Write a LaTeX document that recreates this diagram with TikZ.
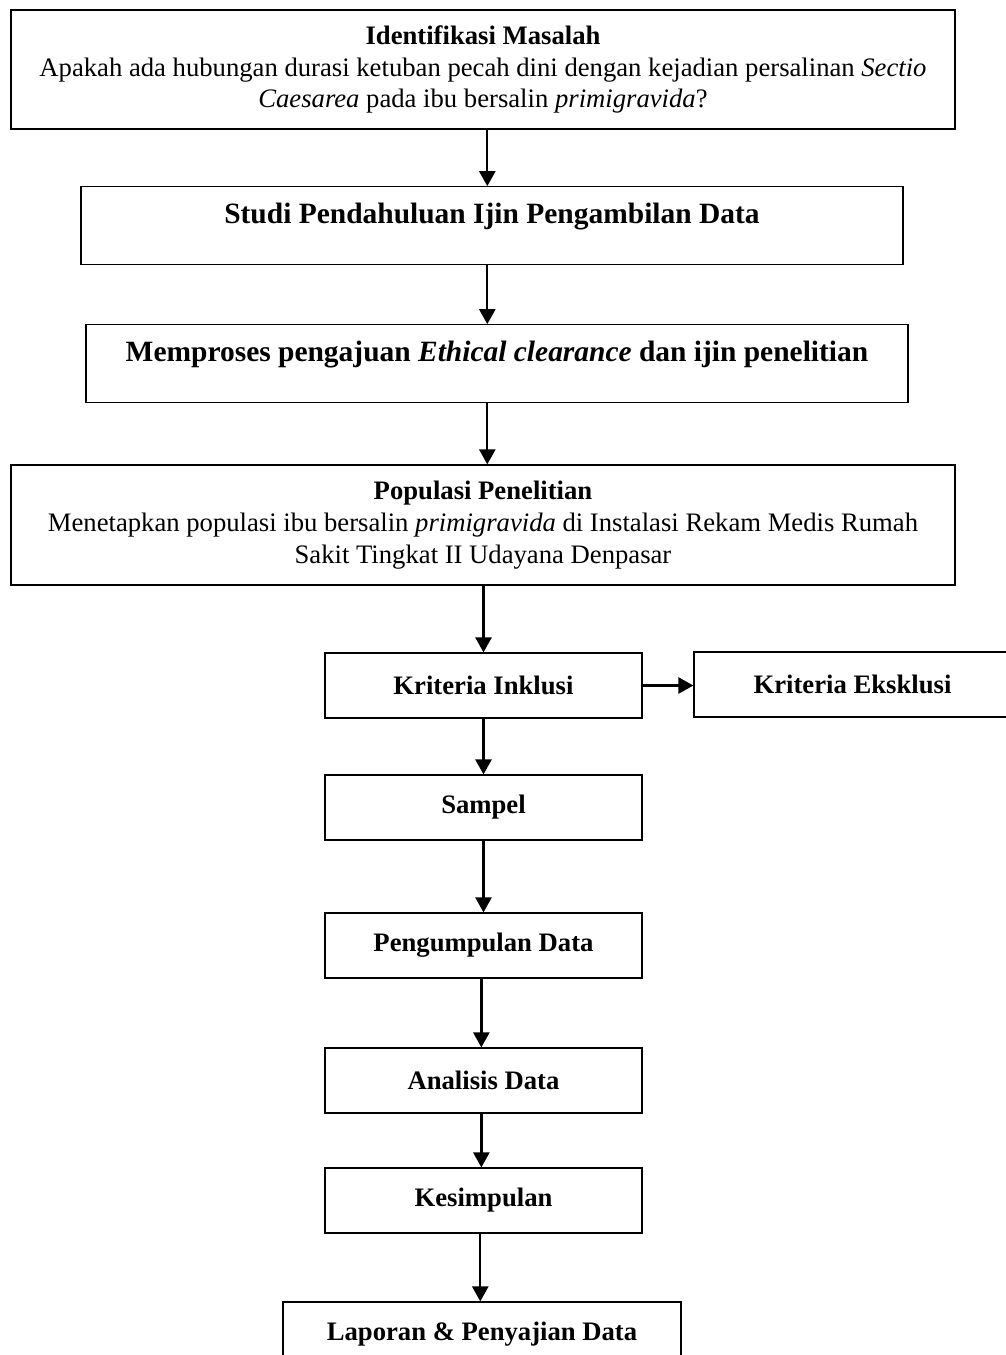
\documentclass[tikz,border=0pt]{standalone}
\usepackage{fontspec}
\setmainfont{Liberation Serif}
\usetikzlibrary{arrows.meta,positioning}

\tikzset{
  box/.style={draw, line width=0.6pt, inner sep=2pt, align=center,
    font=\fontsize{12.4}{14.8}\selectfont},
  small/.style={box, minimum width=147.4pt, minimum height=30.2pt, font=\fontsize{12.4}{14.8}\selectfont\bfseries},
  big/.style={box, minimum width=382.2pt, minimum height=36pt, text depth=11pt,
    font=\fontsize{13.7}{17}\selectfont\bfseries},
  arr/.style={-{Triangle[length=7pt,width=7.5pt]}, line width=1.1pt},
}

\begin{document}
\begin{tikzpicture}[x=0.465pt,y=-0.465pt]
\useasboundingbox (0,0) rectangle (1006,1355);
\clip (0,0) rectangle (1006,1355);
\node[box, minimum width=439pt, minimum height=55.3pt] (masalah) at (483,69.5)
  {\textbf{Identifikasi Masalah}\\
   Apakah ada hubungan durasi ketuban pecah dini dengan kejadian persalinan \textit{Sectio}\\
   \textit{Caesarea} pada ibu bersalin \textit{primigravida}?};
\node[big] (studi) at (492,225.5) {Studi Pendahuluan Ijin Pengambilan Data};
\node[big] (etik) at (497,363.5) {Memproses pengajuan \textit{Ethical clearance} dan ijin penelitian};
\node[box, minimum width=439pt, minimum height=55.8pt] (populasi) at (483,525)
  {\textbf{Populasi Penelitian}\\
   Menetapkan populasi ibu bersalin \textit{primigravida} di Instalasi Rekam Medis Rumah\\
   Sakit Tingkat II Udayana Denpasar};
\node[small] (inklusi) at (483.5,685.5) {Kriteria Inklusi};
\node[small] (eksklusi) at (852.5,684.5) {Kriteria Eksklusi};
\node[small] (sampel) at (483.5,807.5) {Sampel};
\node[small] (kumpul) at (483.5,945.5) {Pengumpulan Data};
\node[small] (analisis) at (483.5,1080.5) {Analisis Data};
\node[small] (simpul) at (483.5,1200.5) {Kesimpulan};
\node[small, minimum width=185.1pt] (laporan) at (482,1334.5) {Laporan \& Penyajian Data};

\draw[arr] ([xshift=2pt]masalah.south) -- ([xshift=2pt]masalah.south |- studi.north);
\draw[arr] ([xshift=2pt]masalah.south |- studi.south) -- ([xshift=2pt]masalah.south |- etik.north);
\draw[arr] ([xshift=2pt]masalah.south |- etik.south) -- ([xshift=2pt]masalah.south |- populasi.north);
\draw[arr] (populasi.south -| inklusi) -- (inklusi.north);
\draw[arr] (inklusi.east) -- (inklusi.east -| eksklusi.west);
\draw[arr] (inklusi.south) -- (sampel.north);
\draw[arr] (sampel.south) -- (kumpul.north);
\draw[arr] ([xshift=-1pt]kumpul.south) -- ([xshift=-1pt]analisis.north);
\draw[arr] ([xshift=-1pt]analisis.south) -- ([xshift=-1pt]simpul.north);
\draw[arr] ([xshift=-1.5pt]simpul.south) -- ([xshift=-1.5pt]simpul.south |- laporan.north);
\end{tikzpicture}
\end{document}
